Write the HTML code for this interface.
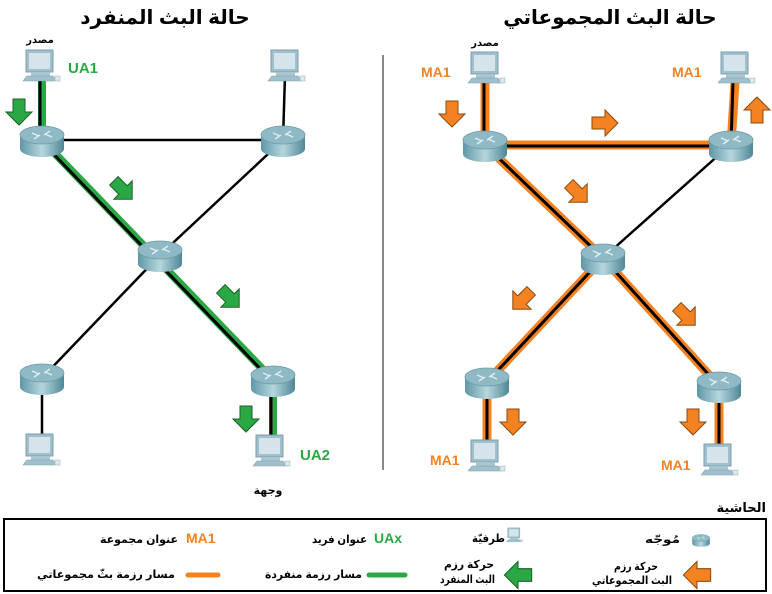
<!DOCTYPE html>
<html><head><meta charset="utf-8"><style>
html,body{margin:0;padding:0;background:#fff;width:772px;height:594px;overflow:hidden}
svg{display:block}
text{font-family:"Liberation Sans","DejaVu Sans",sans-serif;font-weight:bold}
</style></head><body>
<svg width="772" height="594" viewBox="0 0 772 594" xmlns="http://www.w3.org/2000/svg">
<defs>
<linearGradient id="rg" x1="0" x2="1" y1="0" y2="0">
<stop offset="0" stop-color="#5f97a6"/><stop offset="0.5" stop-color="#b6d6de"/><stop offset="1" stop-color="#4f8796"/></linearGradient>
<g id="router">
<rect x="-22" y="-5" width="44" height="14" fill="url(#rg)"/>
<ellipse cx="0" cy="9" rx="22" ry="8" fill="url(#rg)"/>
<ellipse cx="0" cy="-5" rx="22" ry="9" fill="#8fb9c4" stroke="#6b9aa6" stroke-width="0.8"/>
<path d="M-10 -7 L-3 -4 M10 -3 L3 -6 M-8 -1 L-2 -5 M8 -9 L2 -5" stroke="#dfeef2" stroke-width="1.4"/>
</g>
<g id="pc">
<rect x="-14" y="-18" width="27" height="22" fill="#9fc0cc" stroke="#7d9ea9"/>
<rect x="-11" y="-15" width="21" height="16" fill="#d4e4ea"/>
<rect x="-9" y="4" width="19" height="4" fill="#a9c6d0"/>
<path d="M-17 13 L-13 8 L13 8 L17 13 Z" fill="#9fc0cc" stroke="#7d9ea9" stroke-width="0.6"/>
<rect x="15" y="8" width="5" height="5" fill="#dfe9ec" stroke="#9fb7bf" stroke-width="0.6"/>
</g>
<path id="ga" d="M-6 -13 L6 -13 L6 0 L13 0 L0 13 L-13 0 L-6 0 Z" fill="#2aa844" stroke="#1e5e2a" stroke-width="1"/>
<path id="oa" d="M-6 -13 L6 -13 L6 0 L13 0 L0 13 L-13 0 L-6 0 Z" fill="#f58220" stroke="#8a4a12" stroke-width="1"/>
</defs>

<text x="165" y="24" font-size="20" text-anchor="middle">حالة البث المنفرد</text>
<text x="610" y="24" font-size="20" text-anchor="middle">حالة البث المجموعاتي</text>
<line x1="383" y1="55" x2="383" y2="470" stroke="#888" stroke-width="2"/>

<g stroke-linecap="round">
<line x1="42" y1="140" x2="283" y2="140" stroke="#000" stroke-width="2.5"/>
<line x1="283" y1="140" x2="160" y2="255" stroke="#000" stroke-width="2.5"/>
<line x1="285" y1="75" x2="283" y2="140" stroke="#000" stroke-width="2.5"/>
<line x1="160" y1="255" x2="42" y2="378" stroke="#000" stroke-width="2.5"/>
<line x1="42" y1="378" x2="42" y2="445" stroke="#000" stroke-width="2.5"/>
<line x1="42" y1="80" x2="42" y2="140" stroke="#2aa844" stroke-width="8"/>
<line x1="42" y1="140" x2="273" y2="380" stroke="#2aa844" stroke-width="8"/>
<line x1="273" y1="380" x2="273" y2="445" stroke="#2aa844" stroke-width="8"/>
<line x1="40" y1="80" x2="40" y2="140" stroke="#000" stroke-width="3"/>
<line x1="42" y1="142" x2="273" y2="382" stroke="#000" stroke-width="3"/>
<line x1="271" y1="380" x2="271" y2="445" stroke="#000" stroke-width="3"/>
</g>
<use href="#pc" x="40" y="68"/><use href="#pc" x="285" y="68"/>
<use href="#pc" x="40" y="452"/><use href="#pc" x="270" y="453"/>
<use href="#router" x="42" y="140"/><use href="#router" x="283" y="140"/>
<use href="#router" x="160" y="255"/><use href="#router" x="42" y="378"/>
<use href="#router" x="273" y="380"/>
<use href="#ga" x="19" y="112"/>
<use href="#ga" transform="translate(123,190) rotate(-45)"/>
<use href="#ga" transform="translate(230,298) rotate(-45)"/>
<use href="#ga" x="246" y="419"/>
<text x="68" y="73" font-size="15" fill="#2aa844">UA1</text>
<text x="300" y="460" font-size="15" fill="#2aa844">UA2</text>
<text x="40" y="43" font-size="10" text-anchor="middle">مصدر</text>
<text x="268" y="494" font-size="11" text-anchor="middle">وجهة</text>

<g stroke-linecap="round">
<line x1="730" y1="145" x2="603" y2="258" stroke="#000" stroke-width="2.5"/>
<g stroke="#f58220" stroke-width="9">
<line x1="485" y1="82" x2="485" y2="145"/>
<line x1="735" y1="82" x2="731" y2="145"/>
<line x1="485" y1="145" x2="731" y2="145"/>
<line x1="485" y1="145" x2="603" y2="258"/>
<line x1="603" y1="258" x2="487" y2="382"/>
<line x1="603" y1="258" x2="719" y2="386"/>
<line x1="487" y1="382" x2="487" y2="448"/>
<line x1="719" y1="386" x2="719" y2="452"/>
</g>
<g stroke="#000" stroke-width="3">
<line x1="484" y1="82" x2="484" y2="145"/>
<line x1="733" y1="82" x2="731" y2="145"/>
<line x1="485" y1="146" x2="731" y2="146"/>
<line x1="485" y1="145" x2="603" y2="258"/>
<line x1="603" y1="258" x2="487" y2="382"/>
<line x1="603" y1="258" x2="719" y2="386"/>
<line x1="487" y1="382" x2="487" y2="448"/>
<line x1="719" y1="386" x2="719" y2="452"/>
</g>
</g>
<use href="#pc" x="485" y="70"/><use href="#pc" x="735" y="70"/>
<use href="#pc" x="485" y="458"/><use href="#pc" x="718" y="462"/>
<use href="#router" x="485" y="145"/><use href="#router" x="731" y="145"/>
<use href="#router" x="603" y="258"/><use href="#router" x="487" y="382"/>
<use href="#router" x="719" y="386"/>
<use href="#oa" x="452" y="114"/>
<use href="#oa" transform="translate(605,123) rotate(-90)"/>
<use href="#oa" transform="translate(757,110) rotate(180)"/>
<use href="#oa" transform="translate(578,193) rotate(-45)"/>
<use href="#oa" transform="translate(522,300) rotate(45)"/>
<use href="#oa" transform="translate(686,316) rotate(-45)"/>
<use href="#oa" x="513" y="422"/>
<use href="#oa" x="693" y="422"/>
<text x="421" y="77" font-size="14" fill="#f58220">MA1</text>
<text x="672" y="77" font-size="14" fill="#f58220">MA1</text>
<text x="430" y="465" font-size="14" fill="#f58220">MA1</text>
<text x="661" y="470" font-size="14" fill="#f58220">MA1</text>
<text x="485" y="46" font-size="10" text-anchor="middle">مصدر</text>

<text x="766" y="512" font-size="13" text-anchor="end">الحاشية</text>
<rect x="4" y="519" width="762" height="72" fill="none" stroke="#000" stroke-width="2"/>
<g transform="translate(701,540) scale(0.4)"><use href="#router"/></g>
<text x="645" y="543" font-size="11" textLength="35" lengthAdjust="spacingAndGlyphs">مُوجّه</text>
<g transform="translate(514,536) scale(0.45)"><use href="#pc"/></g>
<text x="472" y="542" font-size="11" textLength="33" lengthAdjust="spacingAndGlyphs">طرفيّة</text>
<text x="374" y="543" font-size="14" fill="#2aa844">UAx</text>
<text x="312" y="543" font-size="11" textLength="55" lengthAdjust="spacingAndGlyphs">عنوان فريد</text>
<text x="186" y="543" font-size="14" fill="#f58220">MA1</text>
<text x="100" y="543" font-size="11" textLength="78" lengthAdjust="spacingAndGlyphs">عنوان مجموعة</text>
<use href="#oa" transform="translate(697,575) rotate(90) scale(1.05)"/>
<text x="614" y="570" font-size="11" textLength="44" lengthAdjust="spacingAndGlyphs">حركة رزم</text>
<text x="592" y="584" font-size="11" textLength="80" lengthAdjust="spacingAndGlyphs">البث المجموعاتي</text>
<use href="#ga" transform="translate(518,575) rotate(90) scale(1.05)"/>
<text x="444" y="568" font-size="11" textLength="50" lengthAdjust="spacingAndGlyphs">حركة رزم</text>
<text x="440" y="583" font-size="11" textLength="55" lengthAdjust="spacingAndGlyphs">البث المنفرد</text>
<line x1="369" y1="575" x2="405" y2="575" stroke="#2aa844" stroke-width="5" stroke-linecap="round"/>
<text x="265" y="578" font-size="11" textLength="97" lengthAdjust="spacingAndGlyphs">مسار رزمة منفردة</text>
<line x1="188" y1="575" x2="218" y2="575" stroke="#f58220" stroke-width="5" stroke-linecap="round"/>
<text x="37" y="578" font-size="11" textLength="138" lengthAdjust="spacingAndGlyphs">مسار رزمة بثّ مجموعاتي</text>
</svg>
</body></html>
